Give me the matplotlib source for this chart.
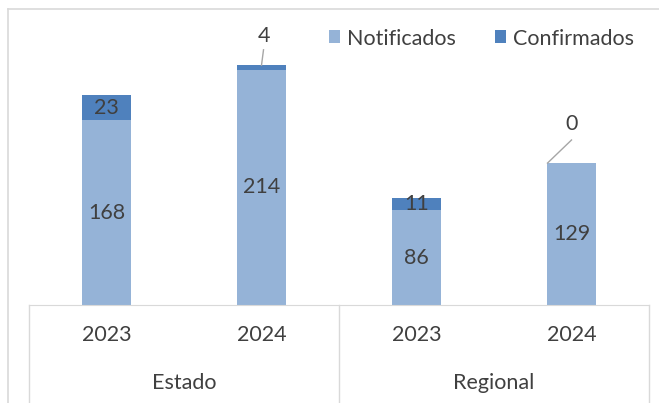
import matplotlib.pyplot as plt
from matplotlib.lines import Line2D

years = ["2023", "2024", "2023", "2024"]
groups = ["Estado", "Regional"]
notificados = [168, 214, 86, 129]
confirmados = [23, 4, 11, 0]

plt.rcParams["font.family"] = ["Lato", "DejaVu Sans"]
text_color = "#404040"
grid_gray = "#D9D9D9"
fs = 15.5

fig = plt.figure(figsize=(6.59, 4.03), dpi=100)

# outer chart border (cropped on right/bottom in the original)
fig.add_artist(Line2D([8 / 659, 8 / 659], [0, 1 - 9 / 403], color=grid_gray, lw=1.2,
                      transform=fig.transFigure))
fig.add_artist(Line2D([8 / 659, 1], [1 - 9 / 403, 1 - 9 / 403], color=grid_gray, lw=1.2,
                      transform=fig.transFigure))

ax = fig.add_axes([29 / 659, 1 - 305 / 403, 620 / 659, 275 / 403])

x = list(range(len(years)))
ax.bar(x, notificados, width=0.31, color="#95B3D7", label="Notificados")
ax.bar(x, confirmados, width=0.31, bottom=notificados, color="#4F81BD", label="Confirmados")

ax.set_xlim(-0.5, len(years) - 0.5)
ax.set_ylim(0, 250)
ax.set_yticks([])
ax.set_xticks([])
for s in ["top", "right", "left"]:
    ax.spines[s].set_visible(False)
ax.spines["bottom"].set_color(grid_gray)

# data labels
for i in x:
    ax.text(i, notificados[i] / 2, str(notificados[i]), ha="center", va="center",
            fontsize=fs, color=text_color)
    if confirmados[i] >= 10:
        ax.text(i, notificados[i] + confirmados[i] / 2, str(confirmados[i]),
                ha="center", va="center", fontsize=fs, color=text_color)

# small labels with leader lines
top1 = notificados[1] + confirmados[1]
ax.plot([1, 1.013], [top1, top1 + 14], color="#A6A6A6", lw=1, clip_on=False)
ax.text(1.013, top1 + 27, str(confirmados[1]), ha="center", va="center",
        fontsize=fs, color=text_color, clip_on=False)
top3 = notificados[3] + confirmados[3]
ax.plot([2.845, 3.0], [top3, top3 + 21], color="#A6A6A6", lw=1)
ax.text(3.0, top3 + 36, str(confirmados[3]), ha="center", va="center",
        fontsize=fs, color=text_color)

# multi-level category axis
xt = ax.get_xaxis_transform()
for i, y in enumerate(years):
    ax.text(i, -0.109, y, transform=xt, ha="center", va="center",
            fontsize=fs, color=text_color)
for g, name in enumerate(groups):
    ax.text(g * 2 + 0.5, -0.284, name, transform=xt, ha="center", va="center",
            fontsize=fs, color=text_color)
for xs in [-0.5, 1.5, 3.5]:
    ax.plot([xs, xs], [0, -0.36], transform=xt, color=grid_gray, lw=1, clip_on=False)

ax.legend(loc="upper left", bbox_to_anchor=(0.459, 1.06), ncol=2, frameon=False,
          fontsize=fs, labelcolor=text_color, handlelength=0.55, handleheight=0.55,
          handletextpad=0.3, columnspacing=1.8, borderpad=0.2)

plt.savefig("out.png", dpi=100)
